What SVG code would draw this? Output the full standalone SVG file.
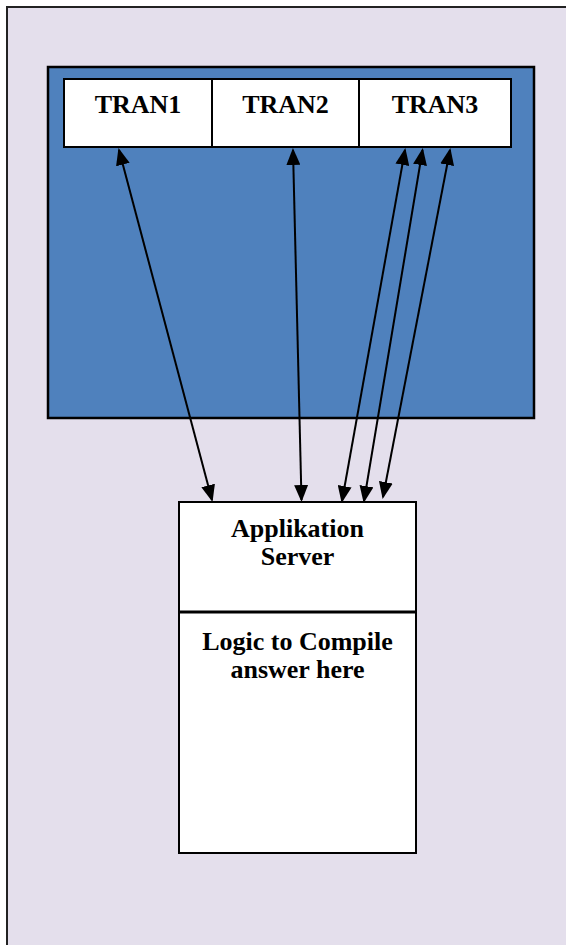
<svg xmlns="http://www.w3.org/2000/svg" width="566" height="945" viewBox="0 0 566 945">
  <style>
    .lbl { font-family: "Liberation Serif", "Times New Roman", serif; font-weight: bold; font-size: 26px; fill: #000; text-anchor: middle; }
    .box { fill: #fff; stroke: #000; stroke-width: 2; }
    .conn { stroke: #000; stroke-width: 2; fill: none; marker-start: url(#ah); marker-end: url(#ah); }
  </style>
  <defs>
    <marker id="ah" markerUnits="userSpaceOnUse" markerWidth="17" markerHeight="14" viewBox="0 0 17 14" refX="15" refY="7" orient="auto-start-reverse">
      <path d="M0,0 L17,7 L0,14 z" fill="#000"/>
    </marker>
  </defs>

  <g id="frame">
    <rect x="7" y="7" width="600" height="1000" fill="#E4DFEC" stroke="#222" stroke-width="2"/>
  </g>

  <g id="database">
    <rect x="48" y="67" width="486" height="351" fill="#4F81BD" stroke="#000" stroke-width="2.5"/>
  </g>

  <g id="tran1">
    <rect class="box" x="64" y="79" width="148" height="68"/>
    <text class="lbl" x="138" y="113">TRAN1</text>
  </g>
  <g id="tran2">
    <rect class="box" x="212" y="79" width="147" height="68"/>
    <text class="lbl" x="285.5" y="113">TRAN2</text>
  </g>
  <g id="tran3">
    <rect class="box" x="359" y="79" width="152" height="68"/>
    <text class="lbl" x="435" y="113">TRAN3</text>
  </g>

  <g id="appserver">
    <rect class="box" x="179" y="502" width="237" height="351"/>
    <line x1="179" y1="612" x2="416" y2="612" stroke="#000" stroke-width="3"/>
    <text class="lbl" x="297.5" y="537">Applikation</text>
    <text class="lbl" x="297.5" y="565">Server</text>
    <text class="lbl" x="297.5" y="650">Logic to Compile</text>
    <text class="lbl" x="297.5" y="678">answer here</text>
  </g>

  <g id="connectors">
    <line class="conn" x1="119" y1="150" x2="212" y2="500"/>
    <line class="conn" x1="293" y1="150" x2="301.5" y2="500"/>
    <line class="conn" x1="405" y1="150" x2="342" y2="501"/>
    <line class="conn" x1="422.5" y1="150" x2="364" y2="501"/>
    <line class="conn" x1="450" y1="150" x2="383" y2="497"/>
  </g>
</svg>
